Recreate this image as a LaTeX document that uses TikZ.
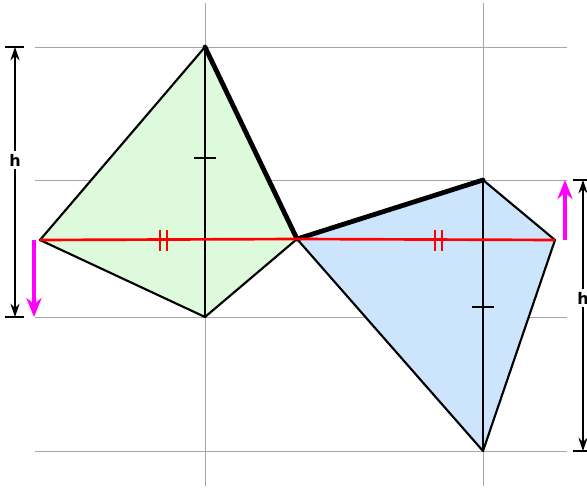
\documentclass[tikz,border=0pt]{standalone}
\usepackage{fontspec}
\setsansfont{DejaVu Sans}
\usetikzlibrary{arrows.meta}
\definecolor{kitegreen}{RGB}{221,250,221}
\definecolor{kiteblue}{RGB}{204,229,252}
\definecolor{pushmag}{RGB}{255,0,255}

\begin{document}
\begin{tikzpicture}[
      x = 0.75pt, y = -0.75pt, font = \sffamily\bfseries\large,
      grid/.style  = {draw = black!35, line width = .75pt},
      kite/.style  = {draw = black, line width = 1.6pt, line join = round},
      bold/.style  = {draw = black, line width = 3.6pt, line cap = round},
      diag/.style  = {draw = black, line width = 1.6pt},
      mid/.style   = {draw = red, line width = 2pt},
      tick/.style  = {draw = black, line width = 1.8pt},
      rtick/.style = {draw = red, line width = 2pt},
      dimarr/.style= {draw = black, line width = .8pt, -{Stealth[length = 3.5mm, width = 2.4mm]}},
      dimbar/.style= {draw = black, line width = 1pt},
      move/.style  = {draw = pushmag, line width = 3pt, -{Stealth[length = 5mm, width = 4mm]}}
    ]
  \useasboundingbox (0,0) rectangle (587,489);

  % grid ------------------------------------------------------------------
  \foreach \y in {47,180,317,451}
    \draw[grid] (35,\y) -- (567,\y);
  \foreach \x in {205,483}
    \draw[grid] (\x,3) -- (\x,486);

  % vertices ---------------------------------------------------------------
  \coordinate (at) at (205,47);
  \coordinate (al) at (40,240);
  \coordinate (ab) at (205,317);
  \coordinate (c)  at (297,239);
  \coordinate (bt) at (483,180);
  \coordinate (br) at (555,240);
  \coordinate (bb) at (483,451);

  % kites -----------------------------------------------------------------
  \fill[kitegreen] (at) -- (c) -- (ab) -- (al) -- cycle;
  \fill[kiteblue] (c) -- (bt) -- (br) -- (bb) -- cycle;
  \draw[kite] (at) -- (al) -- (ab) -- (c);
  \draw[kite] (bt) -- (br) -- (bb) -- (c);
  \draw[bold] (at) -- (c);
  \draw[bold] (c) -- (bt);

  % diagonals --------------------------------------------------------------
  \draw[diag] (at) -- (ab);
  \draw[diag] (bt) -- (bb);
  \draw[mid] (al) -- (c) -- (br);

  % equal marks ------------------------------------------------------------
  \draw[tick] (194,158) -- (216,158);
  \draw[tick] (472,307) -- (494,307);
  \foreach \x in {160,167,435,442}
    \draw[rtick] (\x,230) -- (\x,251);

  % height h ---------------------------------------------------------------
  \coordinate (lt) at (15,47);
  \coordinate (lb) at (15,317);
  \coordinate (rt) at (583,180);
  \coordinate (rb) at (583,451);
  \draw[dimbar] (5,47) -- (24,47);
  \draw[dimbar] (5,317) -- (24,317);
  \draw[dimbar] (573,180) -- (593,180);
  \draw[dimbar] (573,451) -- (593,451);
  \node[inner sep = 2pt] (hl) at (15,160) {h};
  \node[inner sep = 2pt] (hr) at (583,298) {h};
  \draw[dimarr] (hl) -- (lt);
  \draw[dimarr] (hl) -- (lb);
  \draw[dimarr] (hr) -- (rt);
  \draw[dimarr] (hr) -- (rb);

  % motion -----------------------------------------------------------------
  \coordinate (ml) at (34,317);
  \coordinate (mr) at (565,180);
  \draw[move] (34,240) -- (ml);
  \draw[move] (565,240) -- (mr);

\end{tikzpicture}
\end{document}
